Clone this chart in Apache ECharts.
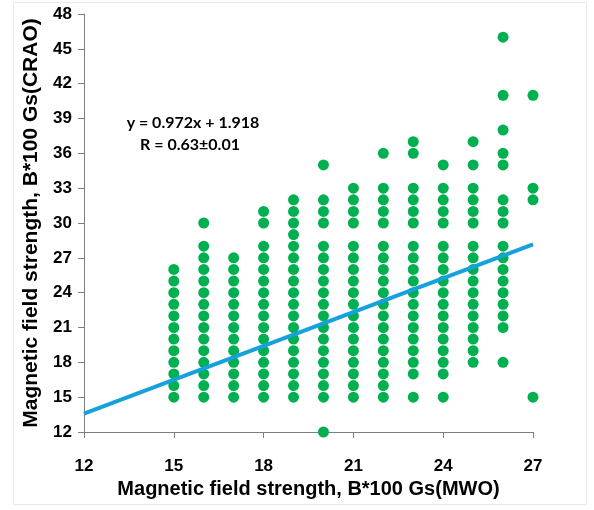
<!DOCTYPE html>
<html>
<head>
<meta charset="utf-8">
<script src="https://cdn.jsdelivr.net/npm/echarts@6/dist/echarts.min.js"></script>
<style>
  html, body { margin: 0; padding: 0; background: #fff; }
  #chart-container { width: 594px; height: 510px; }
</style>
</head>
<body>
<div id="chart-container"></div>
<script>
// MWO field (x) vs CRAO field (y) per MWO column, B*100 Gs
const xValues = [15, 16, 17, 18, 19, 20, 21, 22, 23, 24, 25, 26, 27];
const yByColumn = [
  [15, 16, 17, 18, 19, 20, 21, 22, 23, 24, 25, 26],
  [15, 16, 17, 18, 19, 20, 21, 22, 23, 24, 25, 26, 27, 28, 30],
  [15, 16, 17, 18, 19, 20, 21, 22, 23, 24, 25, 26, 27],
  [15, 16, 17, 18, 19, 20, 21, 22, 23, 24, 25, 26, 27, 28, 30, 31],
  [15, 16, 17, 18, 19, 20, 21, 22, 23, 24, 25, 26, 27, 28, 29, 30, 31, 32],
  [12, 15, 16, 17, 18, 19, 20, 21, 22, 23, 24, 25, 26, 27, 28, 30, 31, 32, 35],
  [15, 16, 17, 18, 19, 20, 21, 22, 23, 24, 25, 26, 27, 28, 30, 31, 32, 33],
  [15, 16, 17, 18, 19, 20, 21, 22, 23, 24, 25, 26, 27, 28, 30, 31, 32, 33, 36],
  [15, 17, 18, 19, 20, 21, 22, 23, 24, 25, 26, 27, 28, 30, 31, 32, 33, 36, 37],
  [15, 17, 18, 19, 20, 21, 22, 23, 24, 25, 26, 27, 28, 30, 31, 32, 33, 35],
  [18, 19, 20, 21, 22, 23, 24, 25, 26, 27, 28, 30, 31, 32, 33, 35, 37],
  [18, 21, 22, 23, 24, 25, 26, 27, 28, 30, 31, 32, 35, 36, 38, 41, 46],
  [15, 32, 33, 41]
];
const fitSlope = 0.972;
const fitIntercept = 1.918;
const fitRange = [12, 27];
const equationText = "y = 0.972x + 1.918";
const rText = "R = 0.63\u00b10.01";

const points = [];
xValues.forEach((x, i) => {
  yByColumn[i].forEach((y) => points.push([x, y]));
});
const fitLine = fitRange.map((x) => [x, fitSlope * x + fitIntercept]);

const chart = echarts.init(document.getElementById("chart-container"));

const axisFont = {
  fontFamily: "Liberation Sans, Arial, sans-serif",
  fontWeight: "bold",
  fontSize: 17,
  color: "#000",
};
const noteFont = {
  fontFamily: "Lato, sans-serif",
  fontWeight: "bold",
  fontSize: 16,
  fill: "#000",
  align: "center",
  verticalAlign: "middle",
};

chart.setOption({
  animation: false,
  grid: { left: 84, right: 61, top: 14, bottom: 78 },
  graphic: [
    {
      type: "rect",
      shape: { x: 13.5, y: 2.5, width: 573, height: 502 },
      style: { fill: "none", stroke: "#e8e8e8", lineWidth: 1 },
      z: -1,
    },
    {
      type: "text",
      x: 193,
      y: 123,
      style: { ...noteFont, text: equationText },
    },
    {
      type: "text",
      x: 190,
      y: 145,
      style: { ...noteFont, text: rText },
    },
  ],
  xAxis: {
    type: "value",
    min: 12,
    max: 27,
    interval: 3,
    name: "Magnetic field strength, B*100 Gs(MWO)",
    nameLocation: "middle",
    nameGap: 46,
    nameTextStyle: { ...axisFont, fontSize: 20 },
    axisLine: { show: true, lineStyle: { color: "#7f7f7f", width: 1 } },
    axisTick: { show: true, length: 6, lineStyle: { color: "#7f7f7f" } },
    axisLabel: { ...axisFont, margin: 26 },
    splitLine: { show: false },
  },
  yAxis: {
    type: "value",
    min: 12,
    max: 48,
    interval: 3,
    name: "Magnetic field strength, B*100 Gs(CRAO)",
    nameLocation: "middle",
    nameGap: 42,
    nameTextStyle: { ...axisFont, fontSize: 21 },
    axisLine: { show: true, lineStyle: { color: "#7f7f7f", width: 1 } },
    axisTick: { show: true, length: 6, lineStyle: { color: "#7f7f7f" } },
    axisLabel: { ...axisFont, margin: 12 },
    splitLine: { show: false },
  },
  series: [
    {
      type: "scatter",
      data: points,
      symbol: "circle",
      symbolSize: 11,
      itemStyle: { color: "#00b050", opacity: 1 },
      z: 2,
    },
    {
      type: "line",
      data: fitLine,
      symbol: "none",
      lineStyle: { color: "#17a1dc", width: 4 },
      z: 3,
    },
  ],
});
</script>
</body>
</html>
